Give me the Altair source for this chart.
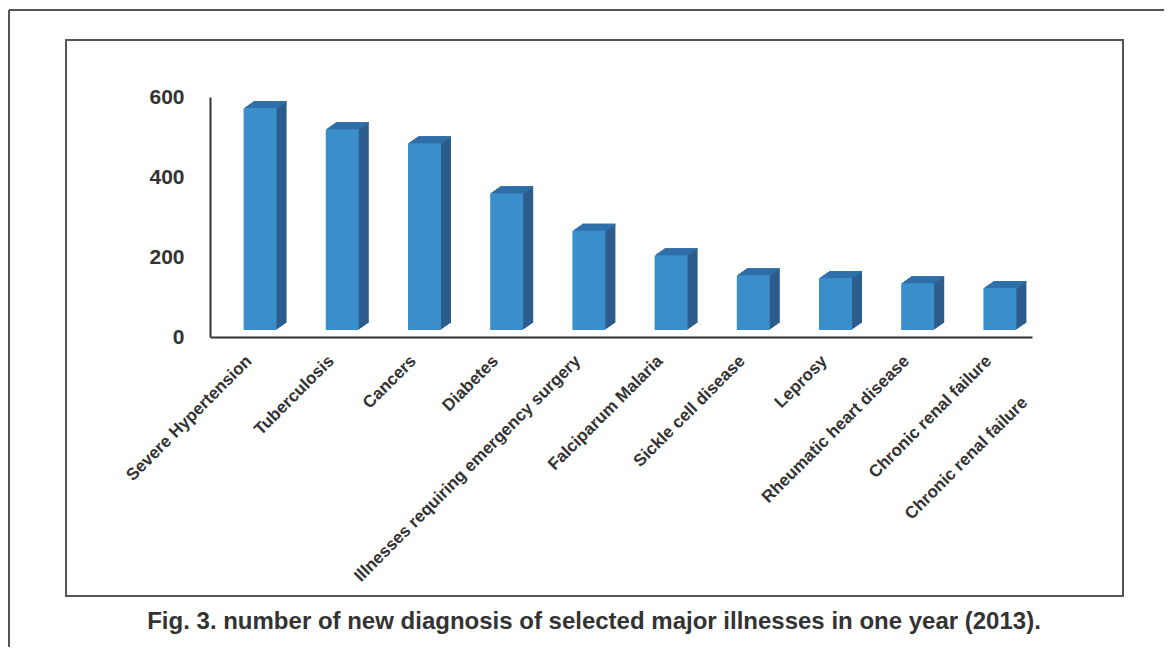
import altair as alt
import pandas as pd

# ---- data ----
categories = [
    "Severe Hypertension",
    "Tuberculosis",
    "Cancers",
    "Diabetes",
    "Illnesses requiring emergency surgery",
    "Falciparum Malaria",
    "Sickle cell disease",
    "Leprosy",
    "Rheumatic heart disease",
    "Chronic renal failure",
]
values = [555, 502, 467, 342, 248, 187, 137, 130, 117, 105]
y_ticks = [0, 200, 400, 600]
extra_label = "Chronic renal failure"
caption = "Fig. 3. number of new diagnosis of selected major illnesses in one year (2013)."

# ---- styles ----
FONT = "Liberation Sans"
TXT = "#333333"
FRONT = "#3a8ec9"
TOP = "#2f71aa"
SIDE = "#2c5d8d"
W, H = 822, 240
BAR_W = 33
FX = 9          # front face shift to the right of band centre
FLOOR = 7       # floor offset (px)
DX, DY = 10, 7  # 3D depth
N = 7
LPAD = 21
LSIZE = 17

df = pd.DataFrame({"cat": categories, "val": values})
one = pd.DataFrame({"a": [0]})

x_enc = alt.X(
    "cat:N",
    sort=categories,
    title=None,
    scale=alt.Scale(paddingInner=0, paddingOuter=0),
    axis=alt.Axis(
        labelAngle=315,
        labelAlign="right",
        labelBaseline="middle",
        labelFont=FONT,
        labelFontSize=LSIZE,
        labelFontWeight="bold",
        labelColor=TXT,
        labelPadding=LPAD,
        labelOffset=-2,
        ticks=False,
        tickSize=0,
        domainColor=TXT,
        domainWidth=2,
        grid=False,
        labelOverlap=False,
        labelLimit=0,
    ),
)
y_enc = alt.Y(
    "val:Q",
    title=None,
    scale=alt.Scale(domain=[0, 600], nice=False),
    axis=alt.Axis(
        values=y_ticks,
        labelFont=FONT,
        labelFontSize=21,
        labelFontWeight="bold",
        labelColor=TXT,
        labelPadding=26,
        ticks=False,
        tickSize=0,
        domainColor=TXT,
        domainWidth=2,
        grid=False,
    ),
)

base = alt.Chart(df)
layers = []

# side (depth) copies
for k in range(N, 0, -1):
    ox = FX + DX * k / N
    oy = -FLOOR - DY * k / N
    layers.append(
        base.mark_bar(size=BAR_W, color=SIDE, xOffset=ox, x2Offset=ox, yOffset=oy, y2Offset=oy)
        .encode(x=x_enc, y=y_enc, y2=alt.datum(0))
    )
# top face strips
for k in range(1, N + 1):
    ox = FX + DX * k / N
    oy1 = -FLOOR - DY * k / N
    oy2 = oy1 + DY / N + 0.4
    layers.append(
        base.mark_bar(size=BAR_W, color=TOP, xOffset=ox, x2Offset=ox, yOffset=oy1, y2Offset=oy2)
        .encode(x=x_enc, y=y_enc, y2="val:Q")
    )
# front face
layers.append(
    base.mark_bar(size=BAR_W, color=FRONT, xOffset=FX, x2Offset=FX, yOffset=-FLOOR, y2Offset=-FLOOR)
    .encode(x=x_enc, y=y_enc, y2=alt.datum(0))
)

# stray duplicated label
extra = alt.Chart(pd.DataFrame({"cat": [categories[-1]], "txt": [extra_label]})).mark_text(
    angle=315, align="right", baseline="middle", font=FONT, fontSize=LSIZE,
    fontWeight="bold", color=TXT, xOffset=34,
).encode(x=alt.X("cat:N", sort=categories), y=alt.value(H + LPAD + 42), text="txt:N")

# frames
inner = alt.Chart(one).mark_rect(filled=False, stroke="#555555", strokeWidth=2).encode(
    x=alt.value(-144), x2=alt.value(913), y=alt.value(-57), y2=alt.value(499)
)
outer_left = alt.Chart(one).mark_rule(stroke="#555555", strokeWidth=2).encode(
    x=alt.value(-201), y=alt.value(-87), y2=alt.value(600)
)
outer_top = alt.Chart(one).mark_rule(stroke="#555555", strokeWidth=2).encode(
    x=alt.value(-201), x2=alt.value(1000), y=alt.value(-87)
)

cap = alt.Chart(pd.DataFrame({"t": [caption]})).mark_text(
    font=FONT, fontSize=24, fontWeight="bold", color=TXT, align="center", baseline="middle"
).encode(x=alt.value(384), y=alt.value(525), text="t:N")

chart = alt.layer(*layers, extra, inner, outer_left, outer_top, cap).properties(
    width=W,
    height=H,
    autosize=alt.AutoSizeParams(type="none"),
    padding={"left": 202, "top": 89, "right": 132, "bottom": 310},
).configure_view(stroke=None)

chart.save("out.html", embed_options={"renderer": "svg", "actions": False})
